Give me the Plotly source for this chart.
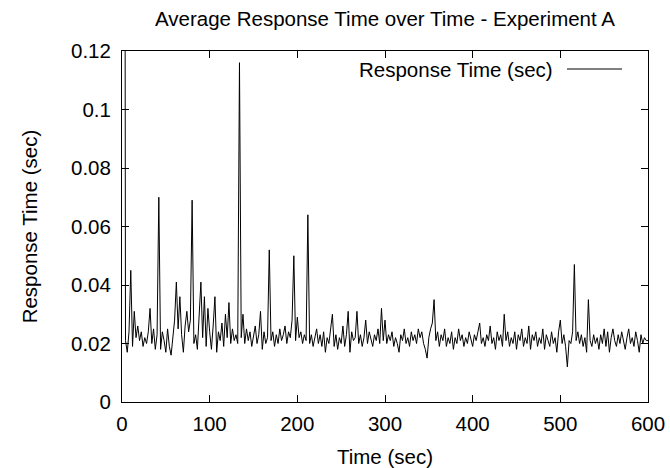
import plotly.graph_objects as go

# Sample times (sec), one every 2 s
time_sec = list(range(0, 601, 2))

# Average response time (sec) per sample
response_sec = [
    0.60, 0.50, 0.021, 0.017, 0.024, 0.045, 0.019, 0.031, 0.022, 0.026,
    0.021, 0.024, 0.019, 0.022, 0.020, 0.024, 0.032, 0.020, 0.025, 0.018,
    0.023, 0.070, 0.018, 0.024, 0.021, 0.017, 0.025, 0.019, 0.016, 0.023,
    0.028, 0.041, 0.025, 0.036, 0.023, 0.017, 0.026, 0.031, 0.024, 0.028,
    0.069, 0.020, 0.023, 0.018, 0.029, 0.041, 0.022, 0.036, 0.019, 0.032,
    0.024, 0.018, 0.026, 0.036, 0.017, 0.024, 0.021, 0.027, 0.019, 0.030,
    0.022, 0.034, 0.020, 0.025, 0.021, 0.023, 0.020, 0.116, 0.022, 0.030,
    0.020, 0.025, 0.021, 0.024, 0.019, 0.022, 0.026, 0.020, 0.023, 0.031,
    0.018, 0.024, 0.020, 0.022, 0.052, 0.021, 0.024, 0.019, 0.023, 0.020,
    0.025, 0.021, 0.023, 0.026, 0.020, 0.024, 0.022, 0.028, 0.050, 0.021,
    0.029, 0.022, 0.024, 0.020, 0.023, 0.021, 0.064, 0.020, 0.023, 0.019,
    0.022, 0.025, 0.020, 0.023, 0.019, 0.024, 0.017, 0.022, 0.020, 0.025,
    0.030, 0.019, 0.023, 0.018, 0.022, 0.020, 0.026, 0.019, 0.023, 0.031,
    0.017, 0.024, 0.021, 0.022, 0.031, 0.020, 0.023, 0.019, 0.022, 0.028,
    0.020, 0.024, 0.021, 0.019, 0.023, 0.021, 0.025, 0.020, 0.032, 0.021,
    0.028, 0.020, 0.023, 0.021, 0.024, 0.019, 0.022, 0.020, 0.017, 0.023,
    0.021, 0.025, 0.020, 0.022, 0.019, 0.024, 0.021, 0.023, 0.020, 0.025,
    0.022, 0.024, 0.020, 0.018, 0.015, 0.022, 0.025, 0.027, 0.035, 0.021,
    0.024, 0.019, 0.023, 0.021, 0.025, 0.019, 0.022, 0.020, 0.024, 0.018,
    0.022, 0.020, 0.025, 0.021, 0.023, 0.019, 0.022, 0.020, 0.024, 0.021,
    0.019, 0.023, 0.021, 0.024, 0.027, 0.020, 0.022, 0.019, 0.023, 0.021,
    0.026, 0.020, 0.022, 0.018, 0.024, 0.021, 0.023, 0.019, 0.030, 0.021,
    0.024, 0.019, 0.022, 0.020, 0.024, 0.018, 0.023, 0.021, 0.025, 0.019,
    0.022, 0.020, 0.026, 0.018, 0.023, 0.021, 0.024, 0.019, 0.022, 0.020,
    0.025, 0.018, 0.023, 0.021, 0.019, 0.024, 0.020, 0.022, 0.017, 0.024,
    0.028, 0.020, 0.023, 0.019, 0.012, 0.021, 0.020, 0.024, 0.047, 0.021,
    0.024, 0.020, 0.023, 0.019, 0.022, 0.017, 0.035, 0.021, 0.019, 0.023,
    0.020, 0.022, 0.018, 0.023, 0.020, 0.025, 0.019, 0.024, 0.017, 0.022,
    0.025, 0.021, 0.019, 0.023, 0.020, 0.024, 0.021, 0.018, 0.022, 0.025,
    0.020, 0.022, 0.019, 0.024, 0.021, 0.017, 0.023, 0.020, 0.022, 0.021,
    0.021,
]

x_ticks = [0, 100, 200, 300, 400, 500, 600]
y_ticks = [0, 0.02, 0.04, 0.06, 0.08, 0.1, 0.12]
y_tick_text = ["0", "0.02", "0.04", "0.06", "0.08", "0.1", "0.12"]

title_text = "Average Response Time over Time - Experiment A"
series_name = "Response Time (sec)"

FONT = "Liberation Sans, Arial, Helvetica, sans-serif"
FS = 20.5

fig = go.Figure()
fig.add_trace(go.Scatter(
    x=time_sec, y=response_sec, mode="lines", name=series_name,
    line=dict(color="black", width=1), showlegend=False,
))

axis_common = dict(
    showgrid=False, zeroline=False, showline=True, linecolor="black",
    linewidth=1, mirror="ticks", ticks="inside", ticklen=7, tickcolor="black",
    tickwidth=1, tickfont=dict(family=FONT, size=FS, color="black"),
)

fig.update_layout(
    width=670, height=468,
    margin=dict(l=122, r=22, t=51, b=66, autoexpand=False),
    paper_bgcolor="white", plot_bgcolor="white",
    font=dict(family=FONT, size=FS, color="black"),
    title=dict(text=title_text, x=385 / 670, xanchor="center",
               y=1 - 19 / 468, yanchor="middle",
               font=dict(family=FONT, size=FS, color="black")),
    xaxis=dict(range=[0, 600], tickvals=x_ticks, ticklabelstandoff=3,
               title=dict(text="Time (sec)", standoff=16,
                          font=dict(family=FONT, size=FS)),
               **axis_common),
    yaxis=dict(range=[0, 0.12], tickvals=y_ticks, ticktext=y_tick_text,
               ticklabelstandoff=6,
               title=dict(text="Response Time (sec)", standoff=27,
                          font=dict(family=FONT, size=FS)),
               **axis_common),
    showlegend=False,
)

# gnuplot-style key: text on the left, line sample on the right
fig.add_annotation(
    text=series_name, xref="paper", yref="paper",
    x=(555 - 122) / 526, y=(402 - 69) / 351,
    xanchor="right", yanchor="middle", showarrow=False,
    font=dict(family=FONT, size=FS, color="black"),
)
fig.add_shape(
    type="line", xref="paper", yref="paper",
    x0=(567 - 122) / 526, x1=(622 - 122) / 526,
    y0=(402 - 69) / 351, y1=(402 - 69) / 351,
    line=dict(color="black", width=1),
)

fig.write_html("out.html")
